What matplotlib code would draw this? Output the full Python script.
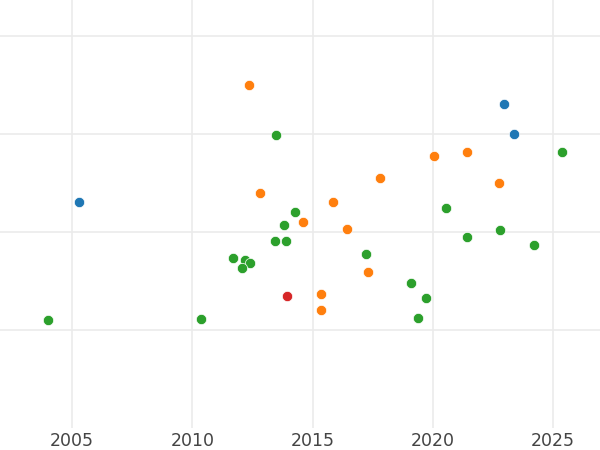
import matplotlib
matplotlib.use('Agg')
import matplotlib.pyplot as plt

# years and values (in gridline units), per group
blue_year = [2005.3, 2022.96, 2023.38]
blue_val = [1.31, 2.31, 2.0]

orange_year = [2012.36, 2012.82, 2014.6, 2015.83, 2016.41, 2017.81, 2020.05,
               2021.42, 2022.75, 2015.33, 2015.33, 2017.29]
orange_val = [2.5, 1.40, 1.10, 1.31, 1.03, 1.55, 1.78,
              1.82, 1.5, 0.37, 0.20, 0.59]

green_year = [2004.0, 2010.37, 2013.49, 2014.27, 2013.82, 2013.45, 2013.9,
              2011.69, 2012.19, 2012.4, 2012.07, 2017.2, 2019.07, 2019.7,
              2019.4, 2020.53, 2021.44, 2022.81, 2024.22, 2025.39]
green_val = [0.10, 0.11, 1.99, 1.21, 1.07, 0.91, 0.91,
             0.735, 0.714, 0.684, 0.633, 0.776, 0.48, 0.327,
             0.122, 1.245, 0.949, 1.02, 0.867, 1.816]

red_year = [2013.94]
red_val = [0.347]

groups = [
    (blue_year, blue_val, '#1f77b4'),
    (orange_year, orange_val, '#ff7f0e'),
    (green_year, green_val, '#2ca02c'),
    (red_year, red_val, '#d62728'),
]

fig = plt.figure(figsize=(6, 4.5), dpi=100)
ax = fig.add_axes([0, 0.049, 1, 0.951])

for xs, ys, col in groups:
    ax.scatter(xs, ys, s=55, color=col, edgecolors='white', linewidths=0.5, zorder=3)

ax.set_xlim(2002.0, 2026.95)
ax.set_ylim(-1.0, 3.37)
ax.set_xticks([2005, 2010, 2015, 2020, 2025])
ax.set_yticks([0, 1, 2, 3])
ax.set_yticklabels([])
ax.grid(True, color='#ebebeb', linewidth=1.2)
ax.set_axisbelow(True)
for s in ax.spines.values():
    s.set_visible(False)
ax.tick_params(axis='both', length=0, labelsize=12.5, labelcolor='#444444', pad=3)

fig.savefig('out.png', dpi=100)
